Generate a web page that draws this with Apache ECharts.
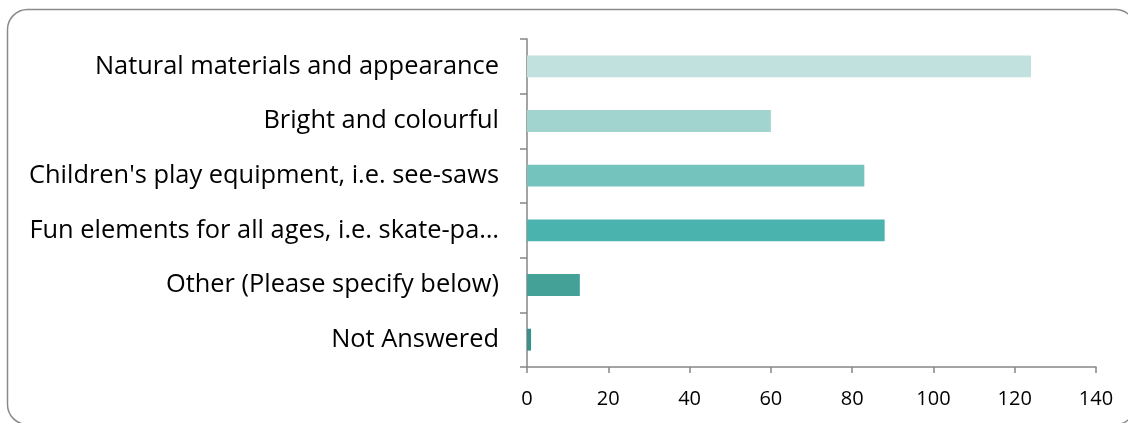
<!DOCTYPE html>
<html><head><meta charset="utf-8">
<script src="https://cdn.jsdelivr.net/npm/echarts@6/dist/echarts.min.js"></script>
<style>html,body{margin:0;padding:0;background:#fff}#c{width:1128px;height:423px}</style>
</head><body><div id="c"></div>
<script>
const categories = ["Natural materials and appearance","Bright and colourful","Children's play equipment, i.e. see-saws","Fun elements for all ages, i.e. skate-parks","Other (Please specify below)","Not Answered"];
const values = [124, 60, 83, 88, 13, 1];
const colors = ["#C1E1DF","#A1D4CF","#74C4BD","#4AB3AD","#43A198","#3A918A"];
const xTicks = [0, 140, 20];

const chart = echarts.init(document.getElementById('c'), null, {renderer:'canvas'});
const font = 'Open Sans';
chart.setOption({
  animation:false,
  graphic:[{type:'rect', shape:{x:7.5,y:9.5,width:1128,height:415,r:20}, style:{fill:'none',stroke:'#8a8a8a',lineWidth:1.5}, silent:true, z:-1}],
  grid:{left:527,right:32,top:39,bottom:56,containLabel:false},
  xAxis:{type:'value',min:xTicks[0],max:xTicks[1],interval:xTicks[2],
    axisLine:{show:true,lineStyle:{color:'#868686',width:1.5}},
    axisTick:{show:true,length:6,lineStyle:{color:'#868686',width:1.5}},
    splitLine:{show:false},
    axisLabel:{color:'#000',fontFamily:font,fontSize:20,margin:22}},
  yAxis:{type:'category',inverse:true,data:categories,
    axisLine:{show:true,lineStyle:{color:'#868686',width:1.5}},
    axisTick:{show:true,length:7,lineStyle:{color:'#868686',width:1.5}},
    axisLabel:{color:'#000',fontFamily:font,fontSize:25.4,margin:28,padding:[6,0,0,0],overflow:'truncate',width:478,ellipsis:'…'}},
  series:[{type:'bar',barCategoryGap:'60%',
    data:values.map((v,i)=>({value:v,itemStyle:{color:colors[i]}}))}]
});
</script></body></html>
